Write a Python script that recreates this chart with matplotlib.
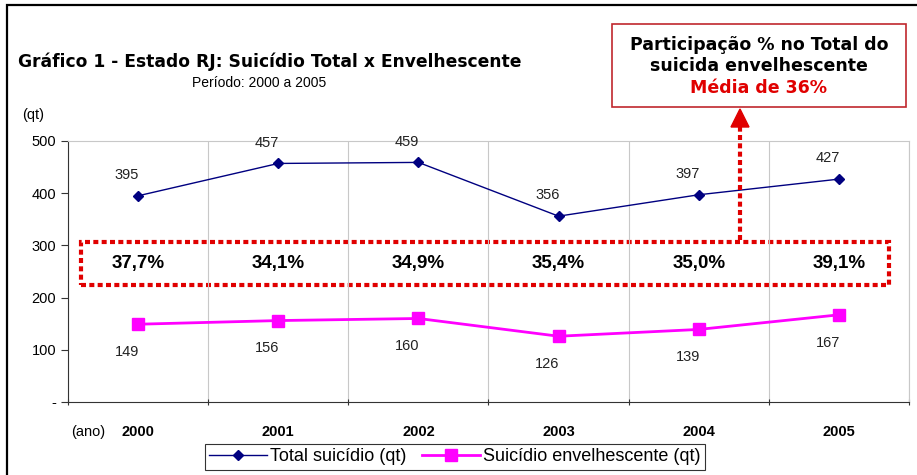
import numpy as np
import matplotlib.pyplot as plt
from matplotlib.patches import Rectangle

plt.rcParams['font.family'] = ['Liberation Sans', 'DejaVu Sans']

anos = ['2000', '2001', '2002', '2003', '2004', '2005']
total = [395, 457, 459, 356, 397, 427]
envelhescente = [149, 156, 160, 126, 139, 167]
participacao = ['37,7%', '34,1%', '34,9%', '35,4%', '35,0%', '39,1%']

W, H = 917, 475
fig = plt.figure(figsize=(W / 100, H / 100), dpi=100)
ax = fig.add_axes([68 / W, 1 - 402 / H, (909 - 68) / W, (402 - 141) / H])

x = np.arange(len(anos))
ax.plot(x, total, color='#000080', lw=1, marker='D', ms=5, label='Total suicídio (qt)')
ax.plot(x, envelhescente, color='#FF00FF', lw=2, marker='s', ms=8, label='Suicídio envelhescente (qt)')

for i in range(len(anos)):
    ax.annotate(str(total[i]), (x[i], total[i]), xytext=(-8, 10), textcoords='offset points',
                ha='center', va='bottom', fontsize=10.5, color='#222222')
    ax.annotate(str(envelhescente[i]), (x[i], envelhescente[i]), xytext=(-8, -15), textcoords='offset points',
                ha='center', va='top', fontsize=10.5, color='#222222')
    ax.text(x[i], 265, participacao[i], ha='center', va='center', fontsize=13.5, fontweight='bold')

ax.set_xlim(-0.5, 5.5)
ax.set_ylim(0, 500)
ax.set_yticks([0, 100, 200, 300, 400, 500])
ax.set_yticklabels(['-', '100', '200', '300', '400', '500'], fontsize=10.5)
ax.set_xticks(np.arange(-0.5, 6, 1))
ax.set_xticklabels([])
ax.tick_params(axis='y', length=5, color='#333333')
ax.tick_params(axis='x', length=5, direction='inout', color='#333333')
for i, a in enumerate(anos):
    ax.text(x[i], -0.09, a, transform=ax.get_xaxis_transform(), ha='center', va='top',
            fontsize=10.5, fontweight='bold')
ax.text(-0.48, -0.09, '(ano)', transform=ax.get_xaxis_transform(), ha='left', va='top', fontsize=10.5)

ax.grid(axis='x', color='#c8c8c8', lw=0.8)
ax.spines['top'].set_color('#c8c8c8')
ax.spines['right'].set_color('#c8c8c8')
ax.spines['left'].set_color('#333333')
ax.spines['bottom'].set_color('#333333')

# caixa tracejada das percentagens
ax.add_patch(Rectangle((-0.41, 225), 5.77, 82, fill=False, ec='#e00000', lw=3,
                       ls=(0, (1.2, 0.8)), clip_on=False))

leg = ax.legend(loc='upper center', bbox_to_anchor=(0.46, -0.125), ncol=2, fontsize=13,
                frameon=True, fancybox=False, edgecolor='black', handlelength=3.2,
                handletextpad=0.15, columnspacing=0.9, borderpad=0.25)
leg.get_frame().set_linewidth(0.8)

# moldura externa
fig.patches.append(Rectangle((7 / W, -0.1), 1.2, 1.1 - 5 / H, transform=fig.transFigure,
                             fill=False, ec='black', lw=1.6))

fig.text(18 / W, 1 - 62 / H, 'Gráfico 1 - Estado RJ: Suicídio Total x Envelhescente', fontsize=12.3,
         fontweight='bold', va='center', ha='left', family='DejaVu Sans')
fig.text(192 / W, 1 - 83 / H, 'Período: 2000 a 2005', fontsize=10, va='center', ha='left')
fig.text(22 / W, 1 - 115 / H, '(qt)', fontsize=10.5, va='center', ha='left')

# caixa de destaque
fig.patches.append(Rectangle((612 / W, 1 - 107 / H), (906 - 612) / W, (107 - 24) / H,
                             transform=fig.transFigure, fill=True, fc='white', ec='#c0272d', lw=1.2))
fig.text(759 / W, 1 - 45 / H, 'Participação % no Total do', fontsize=12.5, fontweight='bold',
         ha='center', va='center', family='DejaVu Sans')
fig.text(759 / W, 1 - 66 / H, 'suicida envelhescente', fontsize=12.5, fontweight='bold',
         ha='center', va='center', family='DejaVu Sans')
fig.text(759 / W, 1 - 88 / H, 'Média de 36%', fontsize=12.5, fontweight='bold', color='#e00000',
         ha='center', va='center', family='DejaVu Sans')

# seta pontilhada
fig.add_artist(plt.Line2D([740 / W, 740 / W], [1 - 240 / H, 1 - 126 / H], transform=fig.transFigure,
                          color='#e00000', lw=3, ls=(0, (1.2, 0.8))))
fig.patches.append(plt.Polygon([[731 / W, 1 - 127 / H], [749 / W, 1 - 127 / H], [740 / W, 1 - 109 / H]],
                               closed=True, transform=fig.transFigure, color='#e00000'))

fig.savefig('out.png', dpi=100)
